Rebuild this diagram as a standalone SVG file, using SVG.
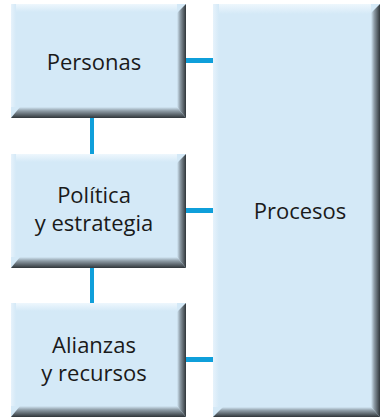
<svg xmlns="http://www.w3.org/2000/svg" width="380" height="417" viewBox="0 0 380 417">
<defs>
<linearGradient id="gr" x1="0" y1="0" x2="1" y2="0"><stop offset="0" stop-color="#d4e9f7"/><stop offset="0.35" stop-color="#8e9ca6"/><stop offset="1" stop-color="#30363a"/></linearGradient>
<linearGradient id="gb" x1="0" y1="0" x2="0" y2="1"><stop offset="0" stop-color="#d4e9f7"/><stop offset="0.35" stop-color="#8e9ca6"/><stop offset="1" stop-color="#30363a"/></linearGradient>
<linearGradient id="gt" x1="0" y1="0" x2="0" y2="1"><stop offset="0" stop-color="#eef7fd"/><stop offset="1" stop-color="#d4e9f7"/></linearGradient>
<linearGradient id="gl" x1="0" y1="0" x2="1" y2="0"><stop offset="0" stop-color="#e6f2fb"/><stop offset="1" stop-color="#d4e9f7"/></linearGradient>
</defs>
<style>
.fill{fill:#d4e9f7}
.top{fill:url(#gt)}
.left{fill:url(#gl)}
.rs{fill:url(#gr)}
.bs{fill:url(#gb)}
.conn{stroke:#0f9fda;fill:none}
text{font-family:"Open Sans","Liberation Sans",sans-serif;font-size:22px;fill:#1a1a1a;text-anchor:middle;font-variant-ligatures:none}
</style>
<g id="connectors">
<line class="conn" x1="186" y1="60.5" x2="213" y2="60.5" stroke-width="5"/>
<line class="conn" x1="186" y1="210.5" x2="213" y2="210.5" stroke-width="5"/>
<line class="conn" x1="186" y1="359.5" x2="213" y2="359.5" stroke-width="5"/>
<line class="conn" x1="92" y1="118" x2="92" y2="154" stroke-width="4"/>
<line class="conn" x1="92" y1="268" x2="92" y2="303" stroke-width="4"/>
</g>
<g id="personas">
<rect class="fill" x="11" y="4" width="175" height="114"/>
<rect class="top" x="11" y="4" width="166" height="8"/>
<rect class="left" x="11" y="4" width="5" height="103"/>
<polygon class="rs" points="177,13 186,4 186,118 177,107"/>
<polygon class="bs" points="20,107 177,107 186,118 11,118"/>
<text x="94" y="70">Personas</text>
</g>
<g id="politica">
<rect class="fill" x="11" y="154" width="175" height="114"/>
<rect class="top" x="11" y="154" width="166" height="8"/>
<rect class="left" x="11" y="154" width="5" height="103"/>
<polygon class="rs" points="177,163 186,154 186,268 177,257"/>
<polygon class="bs" points="20,257 177,257 186,268 11,268"/>
<text x="94" y="203">Política</text>
<text x="94" y="231">y estrategia</text>
</g>
<g id="alianzas">
<rect class="fill" x="11" y="303" width="175" height="114"/>
<rect class="top" x="11" y="303" width="166" height="8"/>
<rect class="left" x="11" y="303" width="5" height="103"/>
<polygon class="rs" points="177,312 186,303 186,417 177,406"/>
<polygon class="bs" points="20,406 177,406 186,417 11,417"/>
<text x="94" y="353">Alianzas</text>
<text x="94" y="381">y recursos</text>
</g>
<g id="procesos">
<rect class="fill" x="213" y="4" width="167" height="413"/>
<rect class="top" x="213" y="4" width="158" height="10"/>
<rect class="left" x="213" y="4" width="6" height="403"/>
<polygon class="rs" points="371,13 380,4 380,417 371,407"/>
<polygon class="bs" points="223,407 371,407 380,417 213,417"/>
<text x="300" y="219">Procesos</text>
</g>
</svg>
